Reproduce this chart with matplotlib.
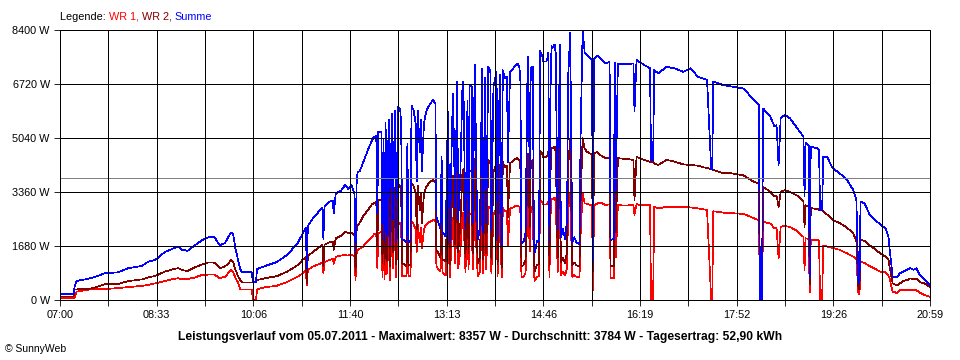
import matplotlib
matplotlib.use("Agg")
import matplotlib.pyplot as plt

plt.rcParams['font.family'] = ['Liberation Sans', 'DejaVu Sans']

# Minutes after 07:00 and power in W
minutes = [
    0, 13, 14, 16, 27, 34, 43, 56, 66, 79,
    85, 92, 101, 109, 114, 118, 123, 130, 137, 143,
    149, 154, 159, 163, 165, 167, 169, 172, 174, 176,
    185, 186, 189, 190, 198, 209, 219, 229, 234, 237,
    238, 239, 244, 253, 254, 255, 260, 263, 264, 266,
    271, 275, 278, 281, 284, 285, 286, 287, 289, 292,
    297, 301, 303, 305, 306, 307, 310, 311, 312, 313,
    314, 315, 317, 318, 320, 321, 323, 324, 326, 328,
    329, 330, 334, 335, 336, 338, 339, 341, 343, 344,
    345, 347, 348, 349, 351, 353, 355, 358, 360, 362,
    363, 365, 367, 368, 369, 372, 374, 376, 378, 379,
    381, 383, 384, 386, 388, 389, 391, 393, 394, 395,
    397, 398, 400, 402, 403, 405, 407, 408, 410, 411,
    413, 415, 416, 418, 420, 421, 422, 424, 426, 427,
    429, 431, 432, 434, 437, 439, 441, 443, 444, 445,
    447, 449, 451, 452, 453, 454, 456, 457, 458, 460,
    462, 463, 465, 466, 469, 470, 471, 472, 473, 474,
    475, 477, 478, 480, 482, 483, 485, 487, 489, 490,
    492, 494, 496, 498, 500, 501, 502, 504, 506, 508,
    511, 513, 514, 515, 518,
    521, 526, 530, 531, 534, 535, 536, 538, 545, 553,
    554, 556, 559, 564, 569, 570, 572, 573, 577, 585,
    593, 601, 608, 615, 624, 628, 629, 630, 639, 648,
    659, 668, 674, 675, 677, 678, 685, 689, 691, 693,
    695, 699, 704, 711, 717, 718, 719, 722, 723, 724,
    730, 732, 733, 735, 736, 740, 745, 752, 759, 765,
    768, 770, 771, 772, 776, 781, 786, 791, 796, 799,
    800, 803, 807, 810, 814, 817, 820, 823, 826, 829,
    834, 839]

summe = [
    180, 180, 400, 590, 660, 720, 830, 860, 990, 1060,
    1190, 1250, 1490, 1600, 1660, 1560, 1530, 1700, 1860, 1950,
    1950, 1700, 1770, 2000, 2100, 2050, 1630, 1200, 940, 860,
    860, 540, 560, 960, 1060, 1180, 1400, 1760, 2060, 2260,
    1000, 2300, 2540, 2880, 1900, 2900, 3060, 3100, 2700, 3320,
    3400, 3580, 3450, 3580, 3300, 1500, 3600, 3990, 4000, 4250,
    4670, 4980, 5080, 5100, 2700, 5230, 5240, 1900, 5000, 1800,
    5500, 2000, 5600, 1700, 5800, 2500, 5900, 1800, 6000, 5950,
    5500, 1900, 1800, 4870, 1800, 1850, 6050, 5900, 5500, 3700,
    5900, 4600, 5600, 4000, 5500, 5850, 6000, 6150, 6220, 6100,
    2600, 2400, 2200, 4460, 2100, 1970, 5860, 1800, 5300, 6430,
    2900, 6790, 2500, 3800, 6500, 6790, 2200, 6200, 2400, 6700,
    6650, 2400, 7310, 3000, 1900, 2200, 7200, 2100, 6900, 2400,
    7250, 7150, 2100, 6650, 6950, 7100, 1850, 7000, 1700, 7150,
    6900, 6950, 4300, 7100, 7200, 7300, 7360, 7250, 6800, 1770,
    1800, 2100, 7580, 6400, 3800, 7220, 7250, 1900, 1500, 1830,
    1830, 7740, 7600, 7420, 7420, 7500, 7700, 1800, 6500, 7900,
    7850, 7950, 7700, 2200, 7950, 1950, 2200, 1900, 2500, 6900,
    8300, 1800, 1950, 1800, 1750, 1800, 5000, 8357, 7700, 7620,
    7520, 7480, 1200, 7500, 7600,
    7520, 7360, 7400, 1870, 1900, 7380, 3420, 7360, 7330, 7360,
    5860, 7470, 7400, 7300, 7210, 4350, 4350, 7150, 7050, 7260,
    7200, 7100, 7210, 6950, 6850, 4080, 4080, 6800, 6690, 6640,
    6580, 6270, 6060, 0, 0, 5960, 5700, 5400, 5440, 4200,
    5650, 5760, 5650, 5340, 5080, 3220, 4900, 4800, 730, 4770,
    4720, 4650, 2800, 2780, 4460, 4440, 4100, 3940, 3730, 3420,
    3100, 520, 520, 3060, 3000, 2640, 2490, 2350, 2230, 1970,
    1610, 730, 700, 830, 900, 940, 990, 940, 990, 780,
    620, 470]

wr2 = [
    110, 110, 330, 330, 340, 390, 490, 500, 590, 640,
    700, 750, 880, 960, 990, 930, 900, 1020, 1100, 1170,
    1160, 990, 1040, 1160, 1250, 1180, 960, 720, 620, 540,
    540, 540, 560, 620, 680, 740, 880, 1080, 1250, 1340,
    520, 1360, 1500, 1710, 1040, 1720, 1800, 1820, 1560, 1920,
    2000, 2130, 2080, 2100, 2000, 850, 2150, 2330, 2400, 2590,
    2800, 2980, 3010, 3050, 1700, 3110, 3110, 1150, 3000, 1100,
    3300, 1200, 3400, 1050, 3500, 1500, 3500, 1100, 3600, 3560,
    3300, 1150, 1060, 2900, 1060, 1100, 3620, 3550, 3300, 2200,
    3550, 2800, 3350, 2400, 3300, 3500, 3600, 3700, 3730, 3650,
    1560, 1450, 1300, 2680, 1260, 1200, 3500, 1100, 3200, 3860,
    1750, 4070, 1500, 2300, 3900, 4070, 1320, 3720, 1450, 4020,
    3990, 1450, 4380, 1800, 1150, 1320, 4320, 1260, 4140, 1450,
    4350, 4290, 1260, 3990, 4170, 4260, 1100, 4200, 1000, 4290,
    4140, 4170, 2580, 4260, 4320, 4380, 4420, 4350, 4080, 1060,
    1080, 1260, 4550, 3840, 2280, 4330, 4350, 1140, 900, 1100,
    1100, 4640, 4560, 4450, 4450, 4500, 4620, 1080, 3900, 4740,
    4710, 4770, 4620, 1320, 4770, 1170, 1320, 1140, 1500, 4140,
    4980, 1080, 1170, 1080, 1050, 1080, 3000, 5030, 4700, 4620,
    4560, 4540, 900, 4560, 4600,
    4510, 4410, 4420, 1040, 1060, 4420, 2100, 4410, 4390, 4360,
    3110, 4450, 4410, 4350, 4300, 4300, 4300, 4250, 4200, 4360,
    4300, 4220, 4200, 4180, 4100, 4080, 4080, 4050, 3950, 3940,
    3880, 3700, 3610, 0, 0, 3520, 3370, 3220, 3250, 2900,
    3370, 3420, 3360, 3250, 3050, 2280, 2950, 2900, 500, 2860,
    2830, 2810, 2800, 2780, 2760, 2650, 2490, 2390, 2250, 2070,
    1820, 350, 350, 1870, 1840, 1700, 1580, 1450, 1350, 1250,
    1040, 520, 450, 520, 600, 620, 670, 650, 660, 560,
    510, 400]

wr1 = [
    60, 60, 60, 260, 320, 340, 340, 370, 400, 440,
    470, 520, 590, 650, 680, 640, 650, 700, 780, 790,
    790, 680, 720, 860, 940, 880, 700, 520, 330, 330,
    330, 0, 0, 330, 400, 440, 560, 720, 830, 920,
    470, 940, 1040, 1160, 830, 1170, 1250, 1280, 1130, 1350,
    1380, 1400, 1380, 1420, 1350, 620, 1450, 1560, 1600, 1650,
    1850, 1960, 2050, 2060, 1000, 2090, 2110, 720, 2000, 650,
    2200, 800, 2200, 620, 2300, 1000, 2400, 700, 2400, 2390,
    2200, 750, 740, 1950, 740, 750, 2430, 2360, 2200, 1500,
    2350, 1800, 2250, 1600, 2200, 2350, 2400, 2450, 2490, 2450,
    1040, 950, 900, 1780, 840, 770, 2360, 700, 2100, 2570,
    1150, 2720, 1000, 1500, 2600, 2720, 880, 2480, 950, 2680,
    2660, 950, 2930, 1200, 750, 880, 2880, 840, 2760, 950,
    2900, 2860, 840, 2660, 2780, 2840, 750, 2800, 700, 2860,
    2760, 2780, 1720, 2840, 2880, 2920, 2940, 2900, 2720, 710,
    720, 840, 3030, 2560, 1520, 2890, 2900, 760, 600, 730,
    730, 3100, 3040, 2970, 2970, 3000, 3080, 720, 2600, 3160,
    3140, 3180, 3080, 880, 3180, 780, 880, 760, 1000, 2760,
    3320, 720, 780, 720, 700, 720, 2000, 3327, 3000, 3000,
    2960, 2940, 300, 2940, 3000,
    3030, 2960, 2970, 670, 680, 2960, 1320, 2950, 2940, 2950,
    2650, 2980, 2960, 2950, 2950, 0, 0, 2900, 2850, 2900,
    2900, 2900, 2880, 2850, 2800, 0, 0, 2760, 2720, 2700,
    2680, 2560, 2480, 0, 0, 2430, 2380, 2230, 2250, 1300,
    2280, 2300, 2270, 2150, 1960, 940, 1920, 1900, 230, 1880,
    1870, 1840, 0, 0, 1700, 1660, 1620, 1560, 1450, 1350,
    1270, 170, 170, 1190, 1150, 1050, 970, 880, 860, 750,
    670, 260, 220, 300, 310, 310, 310, 300, 300, 230,
    150, 100]

assert len(minutes) == len(summe) == len(wr2) == len(wr1)

average = 3784
time_labels = ["07:00", "08:33", "10:06", "11:40", "13:13",
               "14:46", "16:19", "17:52", "19:26", "20:59"]
power_ticks = [0, 1680, 3360, 5040, 6720, 8400]
power_labels = ["0 W", "1680 W", "3360 W", "5040 W", "6720 W", "8400 W"]

fig = plt.figure(figsize=(9.6, 3.6), dpi=100)
ax = fig.add_axes([0.0625, 0.1667, 0.90625, 0.75])

lw = 0.6  # about one pixel for grid and frame
data_lw = 0.5
ax.plot(minutes, wr1, color='#ff0000', lw=data_lw, antialiased=False)
ax.plot(minutes, wr2, color='#800000', lw=data_lw, antialiased=False)
ax.plot(minutes, summe, color='#0000ff', lw=data_lw, antialiased=False)
ax.axhline(average, color='#808080', lw=lw, zorder=2.4, antialiased=False)

# 19 grid lines over the day, a label on every second one
span = minutes[-1]
grid_pos = [k * span / 18 for k in range(19)]
ax.set_xticks(grid_pos)
ax.set_xticklabels([time_labels[k // 2] if k % 2 == 0 else ''
                    for k in range(19)])
ax.set_yticks(power_ticks)
ax.set_yticklabels(power_labels)
ax.set_xlim(0, span)
ax.set_ylim(0, 8400)

ax.set_axisbelow(False)
ax.grid(True, color='black', lw=lw, antialiased=False)
for s in ax.spines.values():
    s.set_linewidth(lw)
    s.set_antialiased(False)
ax.tick_params(direction='out', length=4.3, width=lw, pad=3,
               labelsize=7.8, colors='black')

fig.text(0.5, 0.064,
         "Leistungsverlauf vom 05.07.2011 - Maximalwert: 8357 W - "
         "Durchschnitt: 3784 W - Tagesertrag: 52,90 kWh",
         ha='center', va='center', fontsize=8.7, fontweight='bold')
fig.text(0.005, 0.031, "\u00a9 SunnyWeb", ha='left', va='center',
         fontsize=7.5)

# Legend line made of coloured pieces
fig.canvas.draw()
renderer = fig.canvas.get_renderer()
x = 0.0625
for part, col in [("Legende: ", 'black'), ("WR 1, ", '#ff0000'),
                  ("WR 2, ", '#800000'), ("Summe", '#0000ff')]:
    t = fig.text(x, 0.953, part, color=col, ha='left', va='center',
                 fontsize=7.8)
    bb = t.get_window_extent(renderer)
    x += bb.width / fig.bbox.width

fig.savefig("out.png", dpi=100)
